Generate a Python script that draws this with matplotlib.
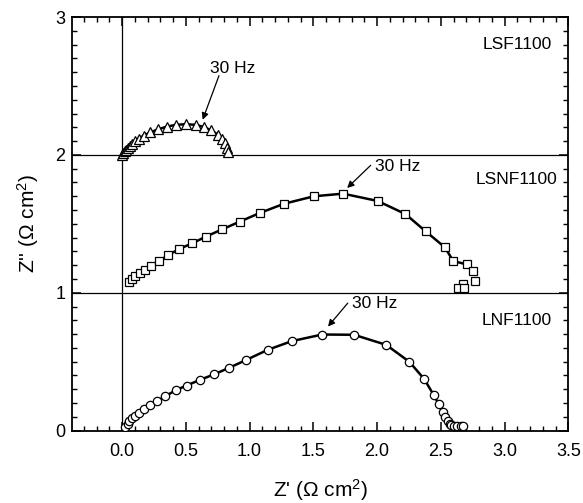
import matplotlib
matplotlib.use("Agg")
import matplotlib.pyplot as plt
from matplotlib.ticker import MultipleLocator

plt.rcParams['font.family'] = ['Liberation Sans', 'DejaVu Sans']
plt.rcParams['mathtext.fontset'] = 'custom'
plt.rcParams['mathtext.rm'] = 'Liberation Sans'
plt.rcParams['mathtext.it'] = 'Liberation Sans:italic'
plt.rcParams['mathtext.bf'] = 'Liberation Sans:bold'

# LNF1100 (offset 0)
lnf_x = [0.026, 0.044, 0.057, 0.078, 0.099, 0.130, 0.169, 0.218, 0.275, 0.340, 0.421, 0.507,
         0.611, 0.720, 0.839, 0.975, 1.143, 1.331, 1.570, 1.819, 2.071, 2.253, 2.370, 2.443,
         2.482, 2.513, 2.534, 2.552, 2.568, 2.583, 2.604, 2.630, 2.656, 2.677]
lnf_y = [0.024, 0.048, 0.068, 0.090, 0.107, 0.126, 0.155, 0.182, 0.215, 0.249, 0.293, 0.327,
         0.368, 0.407, 0.455, 0.513, 0.586, 0.649, 0.697, 0.695, 0.622, 0.499, 0.373, 0.259,
         0.194, 0.133, 0.097, 0.068, 0.048, 0.039, 0.036, 0.036, 0.036, 0.036]

# LSNF1100 (offset 1)
lsnf_x = [0.057, 0.075, 0.101, 0.140, 0.182, 0.229, 0.291, 0.364, 0.447, 0.548, 0.657, 0.785,
          0.923, 1.081, 1.271, 1.505, 1.733, 2.004, 2.222, 2.380, 2.531, 2.597, 2.702, 2.754,
          2.767, 2.675, 2.636, 2.683]
lsnf_y = [0.077, 0.097, 0.119, 0.140, 0.162, 0.191, 0.230, 0.274, 0.317, 0.358, 0.407, 0.460,
          0.516, 0.579, 0.646, 0.700, 0.719, 0.666, 0.571, 0.446, 0.330, 0.230, 0.206, 0.158,
          0.085, 0.061, 0.032, 0.032]

# LSF1100 (offset 2)
lsf_x = [0.000, 0.010, 0.020, 0.030, 0.045, 0.060, 0.080, 0.100, 0.130, 0.170, 0.220, 0.280,
         0.350, 0.420, 0.500, 0.580, 0.640, 0.700, 0.750, 0.780, 0.810, 0.820, 0.830]
lsf_y = [0.000, 0.012, 0.025, 0.038, 0.052, 0.066, 0.082, 0.098, 0.118, 0.140, 0.163, 0.185,
         0.205, 0.218, 0.223, 0.218, 0.203, 0.178, 0.148, 0.118, 0.085, 0.050, 0.020]

offsets = [0, 1, 2]
sample_labels = ["LNF1100", "LSNF1100", "LSF1100"]
label_y = [0.80, 1.82, 2.80]
hz_text = ["30 Hz", "30 Hz", "30 Hz"]
hz_text_pos = [(1.80, 0.92), (1.98, 1.915), (0.69, 2.63)]
hz_arrow_tip = [(1.615, 0.755), (1.765, 1.76), (0.632, 2.255)]
hz_arrow_start = [(1.77, 0.925), (1.95, 1.925), (0.76, 2.575)]

fig = plt.figure(figsize=(5.83, 5.03), dpi=100)
ax = fig.add_axes([0.124, 0.144, 0.851, 0.822])

series = [(lnf_x, lnf_y, 'o', 29, 6.0), (lsnf_x, lsnf_y, 's', 24, 5.6), (lsf_x, lsf_y, '^', 23, 6.6)]
for (xs, ys, mk, nline, ms), off in zip(series, offsets):
    yy = [v + off for v in ys]
    ax.plot(xs[:nline], yy[:nline], '-', color='black', lw=1.8, zorder=2)
    ax.plot(xs, yy, linestyle='none', marker=mk, markersize=ms,
            markerfacecolor='white', markeredgecolor='black', markeredgewidth=0.9, zorder=3)

ax.axhline(1, color='black', lw=0.9, zorder=1)
ax.axhline(2, color='black', lw=0.9, zorder=1)
ax.axvline(0, color='black', lw=0.9, zorder=1)

for lab, ly in zip(sample_labels, label_y):
    ax.text(3.095, ly, lab, ha='center', va='center', fontsize=12.5)

for t, (tx, ty), tip, st in zip(hz_text, hz_text_pos, hz_arrow_tip, hz_arrow_start):
    ax.text(tx, ty, t, ha='left', va='center', fontsize=12.5)
    ax.annotate('', xy=tip, xytext=st,
                arrowprops=dict(arrowstyle='-|>', color='black', lw=0.9,
                                mutation_scale=10, shrinkA=0, shrinkB=0))

ax.set_xlim(-0.39, 3.5)
ax.set_ylim(0, 3)
ax.xaxis.set_major_locator(MultipleLocator(0.5))
ax.xaxis.set_minor_locator(MultipleLocator(0.1))
ax.yaxis.set_major_locator(MultipleLocator(1))
ax.yaxis.set_minor_locator(MultipleLocator(0.1))
ax.xaxis.set_major_formatter(matplotlib.ticker.FormatStrFormatter('%.1f'))
ax.tick_params(which='both', direction='in', top=True, right=True, labelsize=13)
ax.tick_params(which='major', length=6.5, width=1.1)
ax.tick_params(which='minor', length=3.5, width=1.0)
ax.tick_params(axis='x', which='major', pad=9)
ax.tick_params(axis='y', which='major', pad=5)
for s in ax.spines.values():
    s.set_linewidth(1.3)

ax.set_xlabel("Z' (Ω cm$^2$)", fontsize=15, labelpad=12)
ax.set_ylabel("Z'' (Ω cm$^2$)", fontsize=15, labelpad=10)

fig.savefig('out.png', dpi=100)
